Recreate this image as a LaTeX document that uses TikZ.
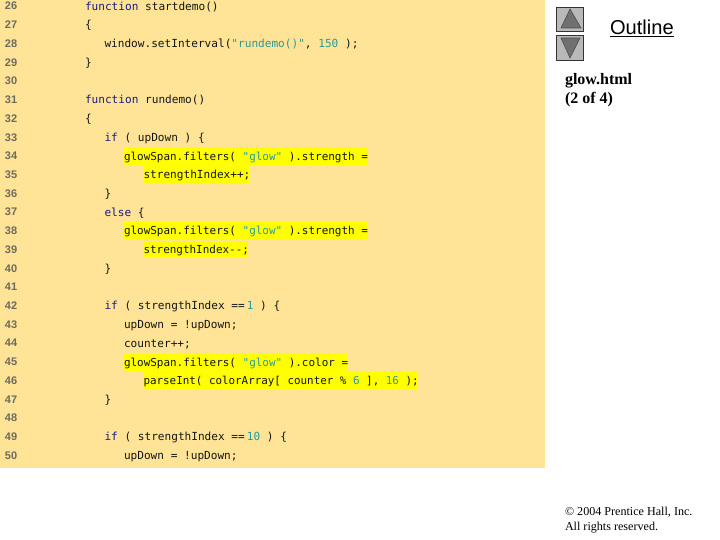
\documentclass[tikz,border=0pt]{standalone}
\usepackage{fontspec}
\setmainfont{Liberation Serif}
\setsansfont{Liberation Sans}
\setmonofont{DejaVu Sans Mono}
\definecolor{panel}{HTML}{FFE397}
\definecolor{mark}{HTML}{FFFF00}
\definecolor{kw}{HTML}{1A1A80}
\definecolor{lit}{HTML}{2A9A9A}
\definecolor{num}{HTML}{6B6B5E}
\definecolor{ink}{HTML}{141414}
\definecolor{btn}{HTML}{B9B9B9}
\definecolor{tri}{HTML}{707070}
\newcommand{\K}[1]{\textcolor{kw}{#1}}
\newcommand{\Li}[1]{\textcolor{lit}{#1}}
\tikzset{
  codeline/.style={anchor=base west,inner sep=0pt,outer sep=0pt,text=ink,font=\fontsize{11.1}{13}\ttfamily},
  tightline/.style={codeline,font=\fontsize{10.95}{13}\ttfamily},
  tighterline/.style={codeline,font=\fontsize{10.88}{13}\ttfamily},
  lineno/.style={anchor=base west,inner sep=0pt,outer sep=0pt,text=num,font=\fontsize{11}{13}\sffamily\bfseries},
  hl/.style={fill=mark,draw=none},
  btnbox/.style={fill=btn,draw=black!80,line width=0.8pt},
  btntri/.style={fill=tri,draw=black!70,line width=0.6pt},
  sidetext/.style={anchor=base west,inner sep=0pt,outer sep=0pt},
}
\begin{document}
\begin{tikzpicture}[x=1pt,y=-1pt]
\useasboundingbox (0,0) rectangle (720,540);
\fill[white] (0,0) rectangle (720,540);
\fill[panel] (0,0) rectangle (544.5,468);
% highlights
\fill[hl] (124,147.5) rectangle (368,165);
\fill[hl] (143,166) rectangle (250,183);
\fill[hl] (124,222.5) rectangle (368,240);
\fill[hl] (143,241) rectangle (248,258);
\fill[hl] (124,353.5) rectangle (347,371);
\fill[hl] (143,372) rectangle (418,389);
% line numbers
\foreach \n [evaluate=\n as \yy using {10+(\n-26)*18.72}] in {26,...,50}
  \node[lineno] (n\n) at (5,\yy) {\n};
% code
\node[codeline] (c26) at (85,10.3) {\K{function} startdemo()};
\node[codeline] (c27) at (85,29) {\{};
\node[codeline] (c28) at (104.5,47.8) {window.setInterval(\Li{"rundemo()"}, \Li{150} );};
\node[codeline] (c29) at (85,66.5) {\}};
\node[codeline] (c31) at (85,103.9) {\K{function} rundemo()};
\node[codeline] (c32) at (85,122.6) {\{};
\node[codeline] (c33) at (104.5,141.3) {\K{if} ( upDown ) \{};
\node[tightline] (c34) at (124,160.1) {glowSpan.filters( \Li{"glow"} ).strength =};
\node[codeline] (c35) at (143.5,178.8) {strengthIndex++;};
\node[codeline] (c36) at (104.5,197.5) {\}};
\node[codeline] (c37) at (104.5,216.2) {\K{else} \{};
\node[tightline] (c38) at (124,235) {glowSpan.filters( \Li{"glow"} ).strength =};
\node[tightline] (c39) at (143.5,253.7) {strengthIndex--;};
\node[codeline] (c40) at (104.5,272.4) {\}};
\node[codeline] (c42) at (104.5,309.9) {\K{if} ( strengthIndex ==\hspace{2pt}\Li{1} ) \{};
\node[codeline] (c43) at (124,328.6) {upDown = !upDown;};
\node[codeline] (c44) at (124,347.3) {counter++;};
\node[tightline] (c45) at (124,366) {glowSpan.filters( \Li{"glow"} ).color =};
\node[tighterline] (c46) at (143.5,384.8) {parseInt( colorArray[ counter \% \Li{6} ], \Li{16} );};
\node[codeline] (c47) at (104.5,403.5) {\}};
\node[codeline] (c49) at (104.5,440.9) {\K{if} ( strengthIndex ==\hspace{2pt}\Li{10} ) \{};
\node[codeline] (c50) at (124,459.7) {upDown = !upDown;};
% navigation buttons
\draw[btnbox] (556.5,7) rectangle (583,31);
\draw[btntri] (570,9) -- (581,28) -- (561,28) -- cycle;
\draw[btnbox] (556.5,35) rectangle (583,60);
\draw[btntri] (561,38) -- (580,38) -- (570,58) -- cycle;
% side texts
\node[sidetext,font=\fontsize{20.1}{23}\sffamily] (outline) at (610,35) {\underline{Outline}};
\node[sidetext,font=\fontsize{16}{18}\bfseries] (file) at (565,85) {glow.html};
\node[sidetext,font=\fontsize{16}{18}\bfseries] (page) at (565,104) {(2 of 4)};
\node[sidetext,font=\fontsize{12.1}{15}\selectfont] (copy) at (565,515) {© 2004 Prentice Hall, Inc.};
\node[sidetext,font=\fontsize{12.1}{15}\selectfont] (rights) at (565,530) {All rights reserved.};
\end{tikzpicture}
\end{document}
